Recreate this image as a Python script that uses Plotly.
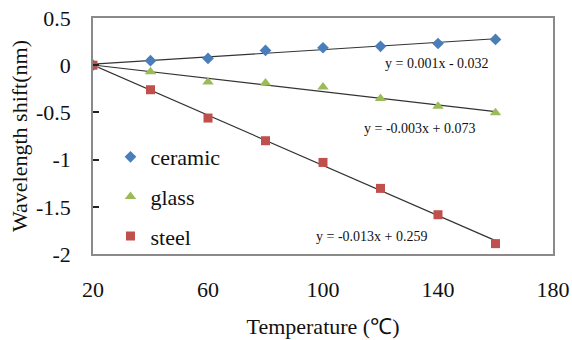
import numpy as np
import plotly.graph_objects as go

temps = [20, 40, 60, 80, 100, 120, 140, 160]
ceramic = [0.0, 0.048, 0.072, 0.157, 0.185, 0.20, 0.23, 0.273]
glass = [0.0, -0.069, -0.178, -0.189, -0.231, -0.352, -0.436, -0.505]
steel = [0.0, -0.26, -0.56, -0.80, -1.03, -1.305, -1.584, -1.89]

x_ticks = [20, 60, 100, 140, 180]
y_ticks = [0.5, 0, -0.5, -1, -1.5, -2]
y_tick_text = ["0.5", "0", "-0.5", "-1", "-1.5", "-2"]

equations = ["y = 0.001x - 0.032", "y = -0.003x + 0.073", "y = -0.013x + 0.259"]
eq_pos = [(139.7, 0.016), (133.4, -0.673), (116.9, -1.814)]

series = [
    ("ceramic", ceramic, "diamond", "#4A7EBB", 9),
    ("glass", glass, "triangle-up", "#9BBB59", 10),
    ("steel", steel, "square", "#C0504D", 9),
]

FONT = "Liberation Serif"

fig = go.Figure()
xs = np.array(temps, dtype=float)
for i, (name, vals, sym, col, sz) in enumerate(series):
    k, b = np.polyfit(xs, np.array(vals), 1)
    fig.add_trace(go.Scatter(
        x=[xs.min(), xs.max()], y=[k * xs.min() + b, k * xs.max() + b],
        mode="lines", line=dict(color="#333333", width=1.2),
        showlegend=False, hoverinfo="skip"))
for i, (name, vals, sym, col, sz) in enumerate(series):
    fig.add_trace(go.Scatter(
        x=temps, y=vals, mode="markers", name=name, legendgroup=name,
        marker=dict(symbol=sym, color=col, size=sz, line=dict(width=0))))

for txt, (ex, ey) in zip(equations, eq_pos):
    fig.add_annotation(x=ex, y=ey, text=txt, showarrow=False,
                       font=dict(family=FONT, size=14, color="#111111"),
                       xanchor="center", yanchor="middle")

fig.update_layout(
    width=572, height=340,
    margin=dict(l=93, r=19, t=18, b=86),
    paper_bgcolor="white", plot_bgcolor="white",
    font=dict(family=FONT, color="#111111", size=22),
    showlegend=True,
    legend=dict(x=0.038, y=0.5, xanchor="left", yanchor="top",
                bgcolor="rgba(0,0,0,0)", font=dict(family=FONT, size=22),
                tracegroupgap=8, itemsizing="trace"),
    xaxis=dict(range=[20, 180], tickvals=x_ticks, ticks="", automargin=False,
               showline=True, linecolor="#8A8A8A", linewidth=1.5, mirror=True,
               showgrid=False, zeroline=False, ticklabelstandoff=15,
               tickfont=dict(family=FONT, size=22),
               title=dict(text="Temperature (℃)", font=dict(family=FONT, size=22), standoff=17)),
    yaxis=dict(range=[-2, 0.5], tickvals=y_ticks, ticktext=y_tick_text,
               ticks="inside", ticklen=6, tickcolor="#222222", tickwidth=1.5,
               automargin=False,
               showline=True, linecolor="#8A8A8A", linewidth=1.5, mirror=True,
               showgrid=False, zeroline=False, ticklabelstandoff=16,
               tickfont=dict(family=FONT, size=22),
               title=dict(text="Wavelength shift(nm)", font=dict(family=FONT, size=22), standoff=2)),
)

fig.write_html("out.html")
